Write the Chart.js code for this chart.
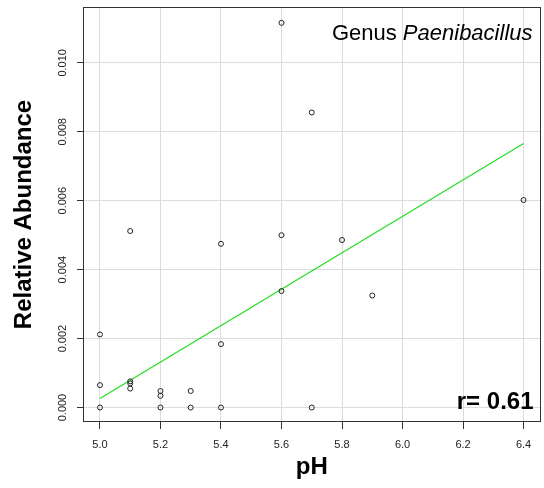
<!DOCTYPE html>
<html>
<head>
<meta charset="utf-8">
<script src="https://cdn.jsdelivr.net/npm/chart.js@4/dist/chart.umd.min.js"></script>
<style>
  html, body { margin: 0; padding: 0; background: #fff; }
  #wrap { width: 544px; height: 488px; }
</style>
</head>
<body>
<div id="wrap"><canvas id="ph-chart"></canvas></div>
<script>
// values
var phValues = [5.6, 5.7, 5.1, 5.4, 5.6, 5.8, 6.4, 5.6, 5.9, 5.0, 5.4, 5.0, 5.1, 5.1, 5.1, 5.2, 5.2, 5.3, 5.0, 5.2, 5.3, 5.4, 5.7];
var abundance = [0.01116, 0.00856, 0.00512, 0.00475, 0.00500, 0.00486, 0.00602, 0.00338, 0.00325, 0.00212, 0.00184, 0.00065, 0.00076, 0.00070, 0.00055, 0.00048, 0.00034, 0.00048, 0, 0, 0, 0, 0];
var fitPh = [5.0, 6.4];
var fitValues = [0.00026, 0.00766];
var xTicks = [5.0, 5.2, 5.4, 5.6, 5.8, 6.0, 6.2, 6.4];
var yTicks = [0, 0.002, 0.004, 0.006, 0.008, 0.010];

document.addEventListener("DOMContentLoaded", function() {
  Chart.defaults.font.family = "'Liberation Sans', Arial, sans-serif";
  Chart.defaults.color = "#222";

  var points = phValues.map(function(p, i) { return { x: p, y: abundance[i] }; });
  var fit = fitPh.map(function(p, i) { return { x: p, y: fitValues[i] }; });

  // box, rotated y tick labels and the two annotations
  var decorPlugin = {
    id: "decor",
    afterDraw: function(chart) {
      var ctx = chart.ctx;
      var area = chart.chartArea;
      var yScale = chart.scales.y;

      ctx.save();
      ctx.strokeStyle = "#333";
      ctx.lineWidth = 1;
      ctx.strokeRect(Math.round(area.left) + 0.5, Math.round(area.top) + 0.5,
        Math.round(area.right - area.left) - 1, Math.round(area.bottom - area.top) - 1);

      ctx.fillStyle = "#222";
      ctx.font = "11px 'Liberation Sans', Arial, sans-serif";
      ctx.textAlign = "center";
      ctx.textBaseline = "middle";
      yScale.ticks.forEach(function(t) {
        var py = yScale.getPixelForValue(t.value);
        ctx.save();
        ctx.translate(63, py);
        ctx.rotate(-Math.PI / 2);
        ctx.fillText(t.value.toFixed(3), 0, 0);
        ctx.restore();
      });

      ctx.fillStyle = "#000";
      ctx.textBaseline = "alphabetic";
      ctx.textAlign = "left";
      var right = area.right - 8;
      ctx.font = "italic 22px 'Liberation Sans', Arial, sans-serif";
      var wItal = ctx.measureText("Paenibacillus").width;
      ctx.fillText("Paenibacillus", right - wItal, 40);
      ctx.font = "22px 'Liberation Sans', Arial, sans-serif";
      var wReg = ctx.measureText("Genus ").width;
      ctx.fillText("Genus ", right - wItal - wReg, 40);

      ctx.font = "bold 24px 'Liberation Sans', Arial, sans-serif";
      ctx.textAlign = "right";
      ctx.fillText("r= 0.61", area.right - 7, 409);
      ctx.restore();
    }
  };

  var canvas = document.getElementById("ph-chart").getContext("2d");
  var phChart = new Chart(canvas, {
    type: "scatter",
    data: {
      datasets: [{
        label: "Samples",
        data: points,
        pointRadius: 2.5,
        pointBorderWidth: 1,
        pointBorderColor: "#222",
        pointBackgroundColor: "rgba(0,0,0,0)",
        pointHoverRadius: 2.5
      }, {
        label: "Fit",
        data: fit,
        showLine: true,
        borderColor: "#22dd22",
        borderWidth: 1.2,
        pointRadius: 0,
        fill: false
      }]
    },
    options: {
      responsive: true,
      maintainAspectRatio: false,
      animation: false,
      layout: {
        padding: { left: 0, right: 3, top: 7, bottom: 0 }
      },
      scales: {
        x: {
          type: "linear",
          min: 4.944,
          max: 6.456,
          afterBuildTicks: function(scale) {
            scale.ticks = xTicks.map(function(v) { return { value: v }; });
          },
          afterFit: function(scale) { scale.height = 66; },
          border: { display: false },
          grid: {
            color: "#dcdcdc",
            lineWidth: 1,
            drawTicks: true,
            tickLength: 7,
            tickColor: "#333"
          },
          ticks: {
            padding: 9,
            font: { size: 11 },
            color: "#222",
            callback: function(v) { return Number(v).toFixed(1); }
          },
          title: {
            display: true,
            text: "pH",
            font: { size: 24, weight: "bold" },
            color: "#000",
            padding: { top: 0, bottom: 6 }
          }
        },
        y: {
          type: "linear",
          min: -0.00042,
          max: 0.01162,
          afterBuildTicks: function(scale) {
            scale.ticks = yTicks.map(function(v) { return { value: v }; });
          },
          afterFit: function(scale) { scale.width = 83; },
          border: { display: false },
          grid: {
            color: "#dcdcdc",
            lineWidth: 1,
            drawTicks: true,
            tickLength: 6,
            tickColor: "#333"
          },
          ticks: { display: false },
          title: {
            display: true,
            text: "Relative Abundance",
            font: { size: 24, weight: "bold" },
            color: "#000",
            padding: { top: 10, bottom: 0 }
          }
        }
      },
      plugins: {
        legend: { display: false },
        tooltip: { enabled: false }
      }
    },
    plugins: [decorPlugin]
  });
});
</script>
</body>
</html>
